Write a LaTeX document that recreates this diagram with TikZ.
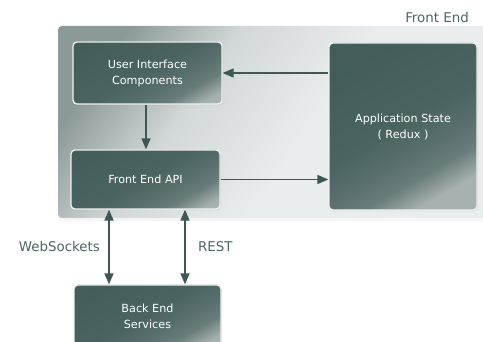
\documentclass[tikz,border=0pt]{standalone}
\usepackage{fontspec}
\setmainfont{DejaVu Sans}
\usetikzlibrary{arrows.meta, positioning, calc, shadows}

\definecolor{boxdark}{HTML}{435D5B}
\definecolor{boxlight}{HTML}{A7B1B0}
\definecolor{framedark}{HTML}{8C9999}
\definecolor{framemid}{HTML}{D2D7D7}
\definecolor{framelight}{HTML}{EAEDED}
\definecolor{linkcol}{HTML}{3F5755}
\definecolor{labelcol}{HTML}{4B6563}

\pgfdeclarehorizontalshading{boxshade}{100bp}{color(0bp)=(boxdark); color(32bp)=(boxdark); color(50bp)=(boxdark!92!boxlight); color(56bp)=(boxdark!80!boxlight); color(62bp)=(boxdark!62!boxlight); color(68bp)=(boxlight); color(100bp)=(boxlight)}
\pgfdeclarehorizontalshading{frameshade}{100bp}{color(0bp)=(framedark); color(24bp)=(framedark); color(38bp)=(framemid); color(55bp)=(framelight); color(100bp)=(framelight)}

\begin{document}
\begin{tikzpicture}[x=1pt, y=-1pt, > = {Triangle[length=11pt, width=9pt]}, line width=1.6pt,
  block/.style={rectangle, rounded corners=4pt, fill=boxdark,
    drop shadow={opacity=0.12, shadow xshift=1pt, shadow yshift=-1.5pt},
    path picture={
      \shade[shading=boxshade, shading angle=-60]
        let \p1=(path picture bounding box.south west), \p2=(path picture bounding box.north east),
            \n1={0.5*abs(\x2-\x1)}, \n2={0.5*abs(\y2-\y1)},
            \n3={max(0.5*\n1+0.866*\n2, \n1, \n2)+1} in
        ($(path picture bounding box.center)+(-\n3,-\n3)$) rectangle ($(path picture bounding box.center)+(\n3,\n3)$);
    },
    draw=white!88!gray, line width=1.3pt, text=white, align=center,
    font=\fontsize{11.2}{16}\selectfont},
  frame/.style={rectangle, rounded corners=4pt, shade, shading=frameshade, shading angle=-35,
    drop shadow={opacity=0.08, shadow xshift=0pt, shadow yshift=-3pt},
    minimum width=432pt, minimum height=192pt},
  link/.style={draw=linkcol, line width=1.6pt},
  caption/.style={text=labelcol, font=\fontsize{13.4}{15}\selectfont}]

\useasboundingbox (0,0) rectangle (483,342);

\node[frame]							(frontend)		at (274,122)		{};
\node[caption, anchor=base east]		(frontendname)	at (473,23)		{Front End};

\node[block, minimum width=149pt, minimum height=62pt]	(ui)		at (147.5,73)		{User Interface\\Components};
\node[block, minimum width=148pt, minimum height=167pt]	(state)		at (403,126.5)		{Application State\\( Redux )};
\node[block, minimum width=149pt, minimum height=59pt]	(api)		at (145.5,179.5)	{Front End API};
\node[block, minimum width=147pt, minimum height=62pt]	(backend)	at (147.5,316)		{Back End\\Services};

\coordinate (ws)   at (109,0);
\coordinate (rest) at (185,0);

\path	(state.west |- ui.east)		edge[link, ->]		(ui.east);
\path	(ui.south -| 146,0)			edge[link, ->]		(api.north -| 146,0);
\path	(api.east)					edge[link, ->]		(state.west |- api.east);
\path	(api.south -| ws)			edge[link, <->]		node[caption, left=5pt]		{WebSockets}	(backend.north -| ws);
\path	(api.south -| rest)			edge[link, <->]		node[caption, right=9pt]	{REST}			(backend.north -| rest);

\end{tikzpicture}
\end{document}
